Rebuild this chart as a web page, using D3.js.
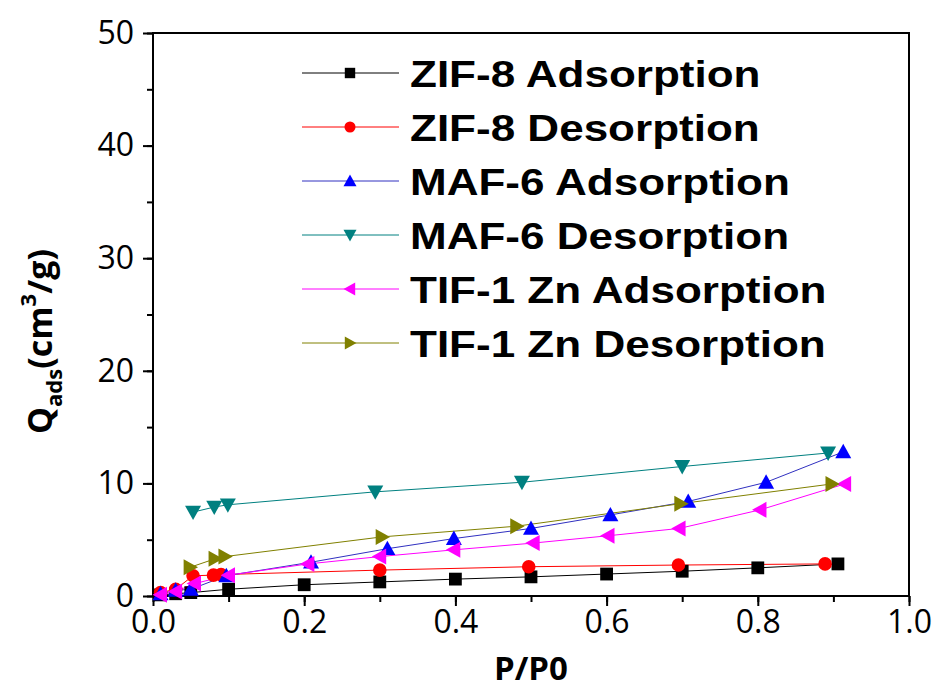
<!DOCTYPE html>
<html>
<head>
<meta charset="utf-8">
<script src="https://d3js.org/d3.v7.min.js"></script>
<style>
  body { margin: 0; background: #fff; }
  .tick text { font-family: 'Open Sans', sans-serif; font-size: 32px; fill: #000; }
  .axis path, .axis line { stroke: #000; stroke-width: 2; }
</style>
</head>
<body>
<svg id="chart" width="941" height="693"></svg>
<script>
// data
var seriesNames = ["ZIF-8 Adsorption", "ZIF-8 Desorption", "MAF-6 Adsorption",
                   "MAF-6 Desorption", "TIF-1 Zn Adsorption", "TIF-1 Zn Desorption"];

var zif8AdsX = [0.01, 0.03, 0.05, 0.10, 0.20, 0.30, 0.40, 0.50, 0.60, 0.70, 0.80, 0.906];
var zif8AdsY = [0.1, 0.2, 0.3, 0.6, 1.0, 1.25, 1.5, 1.7, 1.95, 2.2, 2.5, 2.85];

var zif8DesX = [0.889, 0.695, 0.497, 0.30, 0.09, 0.08, 0.053, 0.03, 0.01];
var zif8DesY = [2.85, 2.75, 2.6, 2.3, 1.9, 1.85, 1.8, 0.6, 0.3];

var maf6AdsX = [0.01, 0.03, 0.05, 0.097, 0.209, 0.31, 0.398, 0.50, 0.605, 0.708, 0.811, 0.913];
var maf6AdsY = [0.2, 0.5, 0.6, 1.8, 3.0, 4.2, 5.1, 6.0, 7.2, 8.4, 10.1, 12.8];

var maf6DesX = [0.893, 0.70, 0.488, 0.294, 0.099, 0.081, 0.053];
var maf6DesY = [12.7, 11.5, 10.1, 9.25, 8.1, 7.9, 7.45];

var tifAdsX = [0.01, 0.03, 0.055, 0.10, 0.205, 0.30, 0.398, 0.503, 0.602, 0.696, 0.803, 0.915];
var tifAdsY = [0.1, 0.4, 1.1, 1.85, 2.85, 3.5, 4.1, 4.7, 5.35, 6.0, 7.65, 9.95];

var tifDesX = [0.898, 0.698, 0.481, 0.303, 0.095, 0.082, 0.049];
var tifDesY = [9.95, 8.2, 6.2, 5.25, 3.5, 3.3, 2.55];

var xTicks = [0, 0.2, 0.4, 0.6, 0.8, 1.0];
var yTicks = [0, 10, 20, 30, 40, 50];

var colors = ["#000000", "#ff0000", "#0000ff", "#008080", "#ff00ff", "#808000"];
var lineColors = ["#000000", "#ff0000", "#3030c0", "#008080", "#ff00ff", "#808000"];
var symbols = ["square", "circle", "up", "down", "left", "right"];

var allX = [zif8AdsX, zif8DesX, maf6AdsX, maf6DesX, tifAdsX, tifDesX];
var allY = [zif8AdsY, zif8DesY, maf6AdsY, maf6DesY, tifAdsY, tifDesY];

var series = seriesNames.map(function (name, i) {
    return {
        name: name, color: colors[i], line: lineColors[i], symbol: symbols[i],
        points: allX[i].map(function (x, j) { return { x: x, y: allY[i][j] }; })
    };
});

var margin = { top: 33, right: 32, bottom: 97, left: 153 };
var width = 941 - margin.left - margin.right,
    height = 693 - margin.top - margin.bottom;

var svg = d3.select("#chart").append("g")
    .attr("transform", "translate(" + margin.left + "," + margin.top + ")");

var x = d3.scaleLinear().domain([0, 1]).range([0, width]);
var y = d3.scaleLinear().domain([0, 50]).range([height, 0]);

// minor ticks
svg.append("g").attr("class", "axis")
    .attr("transform", "translate(0," + height + ")")
    .call(d3.axisBottom(x).tickValues(d3.range(0, 1.01, 0.1)).tickSize(6).tickFormat(""))
    .select(".domain").remove();
svg.append("g").attr("class", "axis")
    .call(d3.axisLeft(y).tickValues(d3.range(0, 51, 5)).tickSize(6).tickFormat(""))
    .select(".domain").remove();

// major ticks
svg.append("g").attr("class", "axis")
    .attr("transform", "translate(0," + height + ")")
    .call(d3.axisBottom(x).tickValues(xTicks).tickSize(10).tickPadding(4).tickFormat(d3.format(".1f")))
    .select(".domain").remove();
svg.append("g").attr("class", "axis")
    .call(d3.axisLeft(y).tickValues(yTicks).tickSize(10).tickPadding(9).tickFormat(d3.format("d")))
    .select(".domain").remove();

// frame
svg.append("rect")
    .attr("x", 0).attr("y", 0).attr("width", width).attr("height", height)
    .attr("fill", "none").attr("stroke", "#000").attr("stroke-width", 2);

// axis titles
svg.append("text")
    .attr("x", width / 2).attr("y", height + 84)
    .attr("text-anchor", "middle")
    .style("font-family", "'Open Sans', sans-serif").style("font-weight", "bold").style("font-size", "33px")
    .text("P/P0");

var yl = svg.append("text")
    .attr("transform", "translate(-101," + (height / 2 + 27) + ") rotate(-90)")
    .attr("text-anchor", "middle")
    .style("font-family", "'Open Sans', sans-serif").style("font-weight", "bold").style("font-size", "34px");
yl.append("tspan").text("Q");
yl.append("tspan").attr("dy", 10).style("font-size", "22px").text("ads");
yl.append("tspan").attr("dy", -10).text("(cm");
yl.append("tspan").attr("dy", -16).style("font-size", "22px").text("3");
yl.append("tspan").attr("dy", 16).text("/g)");

function symbolPath(s, size) {
    var h = size / 2;
    if (s === "up") return "M0," + (-h) + "L" + h + "," + (h * 0.8) + "L" + (-h) + "," + (h * 0.8) + "Z";
    if (s === "down") return "M0," + h + "L" + h + "," + (-h * 0.8) + "L" + (-h) + "," + (-h * 0.8) + "Z";
    if (s === "left") return "M" + (-h) + ",0L" + (h * 0.8) + "," + (-h) + "L" + (h * 0.8) + "," + h + "Z";
    if (s === "right") return "M" + h + ",0L" + (-h * 0.8) + "," + (-h) + "L" + (-h * 0.8) + "," + h + "Z";
    if (s === "square") return "M" + (-h * 0.8) + "," + (-h * 0.8) + "h" + (h * 1.6) + "v" + (h * 1.6) + "h" + (-h * 1.6) + "Z";
    return d3.symbol().type(d3.symbolCircle).size(Math.PI * Math.pow(h * 0.85, 2))();
}

var line = d3.line().x(function (d) { return x(d.x); }).y(function (d) { return y(d.y); });

var plot = svg.append("g");
series.forEach(function (s) {
    plot.append("path").datum(s.points)
        .attr("d", line).attr("fill", "none")
        .attr("stroke", s.line).attr("stroke-width", 1);
});
series.forEach(function (s) {
    plot.selectAll(null).data(s.points).enter().append("path")
        .attr("transform", function (d) { return "translate(" + x(d.x) + "," + y(d.y) + ")"; })
        .attr("d", symbolPath(s.symbol, 16))
        .attr("fill", s.color);
});

// legend
var legend = svg.append("g");
series.forEach(function (s, i) {
    var ly = 40 + i * 54;
    legend.append("line").attr("x1", 149).attr("x2", 246).attr("y1", ly).attr("y2", ly)
        .attr("stroke", s.line).attr("stroke-width", 1);
    legend.append("path").attr("transform", "translate(197," + ly + ")")
        .attr("d", symbolPath(s.symbol, 13)).attr("fill", s.color);
    legend.append("text")
        .attr("transform", "translate(257," + (ly + 14) + ") scale(1.19,1)")
        .style("font-family", "'Liberation Sans', Arial, sans-serif").style("font-weight", "bold")
        .style("font-size", "37px").text(s.name);
});
</script>
</body>
</html>
